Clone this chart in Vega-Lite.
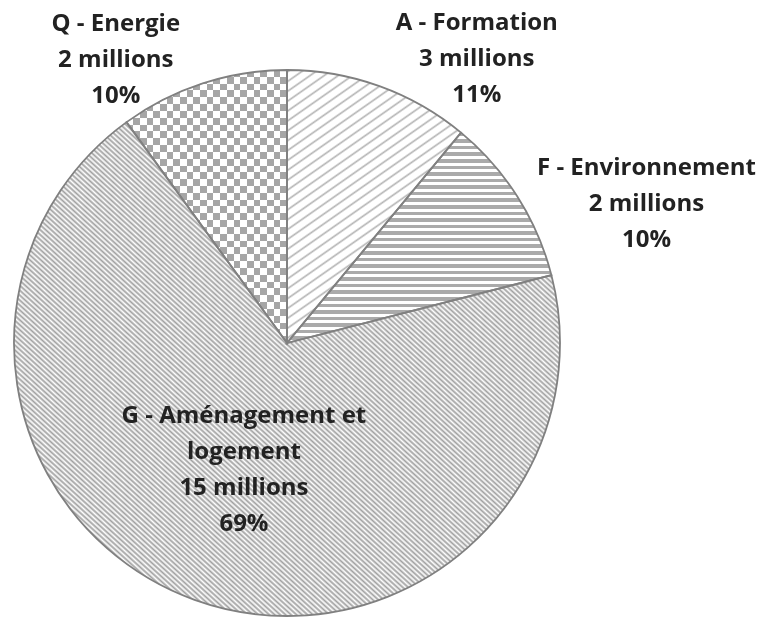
{
  "$schema": "https://vega.github.io/schema/vega-lite/v6.json",
  "autosize": {"type": "none"},
  "width": 574,
  "height": 546,
  "padding": {"left": 0, "top": 70, "right": 191, "bottom": 1},
  "background": "white",
  "view": {"stroke": null},
  "data": {
    "values": [
      {"code": "A", "nom": "Formation", "montant": 3, "part": 11, "etiquette": "A - Formation\n3 millions\n11%"},
      {"code": "F", "nom": "Environnement", "montant": 2, "part": 10, "etiquette": "F - Environnement\n2 millions\n10%"},
      {"code": "G", "nom": "Aménagement et logement", "montant": 15, "part": 69, "etiquette": "G - Aménagement et\nlogement\n15 millions\n69%"},
      {"code": "Q", "nom": "Energie", "montant": 2, "part": 10, "etiquette": "Q - Energie\n2 millions\n10%"}
    ]
  },
  "encoding": {
    "theta": {"field": "part", "type": "quantitative", "stack": true}
  },
  "layer": [
    {
      "mark": {
        "type": "arc", "outerRadius": 273, "strokeWidth": 0,
        "fill": {"gradient": "linear", "x1": 0, "y1": 0, "x2": 0.538, "y2": 1.206, "stops": [
          {"offset":0,"color":"#fff"},{"offset":0.005,"color":"#b4b4b4"},{"offset":0.01,"color":"#fff"},
          {"offset":0.025,"color":"#fff"},{"offset":0.03,"color":"#b4b4b4"},{"offset":0.035,"color":"#fff"},
          {"offset":0.05,"color":"#fff"},{"offset":0.055,"color":"#b4b4b4"},{"offset":0.06,"color":"#fff"},
          {"offset":0.075,"color":"#fff"},{"offset":0.08,"color":"#b4b4b4"},{"offset":0.085,"color":"#fff"},
          {"offset":0.1,"color":"#fff"},{"offset":0.105,"color":"#b4b4b4"},{"offset":0.11,"color":"#fff"},
          {"offset":0.125,"color":"#fff"},{"offset":0.13,"color":"#b4b4b4"},{"offset":0.135,"color":"#fff"},
          {"offset":0.15,"color":"#fff"},{"offset":0.155,"color":"#b4b4b4"},{"offset":0.16,"color":"#fff"},
          {"offset":0.175,"color":"#fff"},{"offset":0.18,"color":"#b4b4b4"},{"offset":0.185,"color":"#fff"},
          {"offset":0.2,"color":"#fff"},{"offset":0.205,"color":"#b4b4b4"},{"offset":0.21,"color":"#fff"},
          {"offset":0.225,"color":"#fff"},{"offset":0.23,"color":"#b4b4b4"},{"offset":0.235,"color":"#fff"},
          {"offset":0.25,"color":"#fff"},{"offset":0.255,"color":"#b4b4b4"},{"offset":0.26,"color":"#fff"},
          {"offset":0.275,"color":"#fff"},{"offset":0.28,"color":"#b4b4b4"},{"offset":0.285,"color":"#fff"},
          {"offset":0.3,"color":"#fff"},{"offset":0.305,"color":"#b4b4b4"},{"offset":0.31,"color":"#fff"},
          {"offset":0.325,"color":"#fff"},{"offset":0.33,"color":"#b4b4b4"},{"offset":0.335,"color":"#fff"},
          {"offset":0.35,"color":"#fff"},{"offset":0.355,"color":"#b4b4b4"},{"offset":0.36,"color":"#fff"},
          {"offset":0.375,"color":"#fff"},{"offset":0.38,"color":"#b4b4b4"},{"offset":0.385,"color":"#fff"},
          {"offset":0.4,"color":"#fff"},{"offset":0.405,"color":"#b4b4b4"},{"offset":0.41,"color":"#fff"},
          {"offset":0.425,"color":"#fff"},{"offset":0.43,"color":"#b4b4b4"},{"offset":0.435,"color":"#fff"},
          {"offset":0.45,"color":"#fff"},{"offset":0.455,"color":"#b4b4b4"},{"offset":0.46,"color":"#fff"},
          {"offset":0.475,"color":"#fff"},{"offset":0.48,"color":"#b4b4b4"},{"offset":0.485,"color":"#fff"},
          {"offset":0.5,"color":"#fff"},{"offset":0.505,"color":"#b4b4b4"},{"offset":0.51,"color":"#fff"},
          {"offset":0.525,"color":"#fff"},{"offset":0.53,"color":"#b4b4b4"},{"offset":0.535,"color":"#fff"},
          {"offset":0.55,"color":"#fff"},{"offset":0.555,"color":"#b4b4b4"},{"offset":0.56,"color":"#fff"},
          {"offset":0.575,"color":"#fff"},{"offset":0.58,"color":"#b4b4b4"},{"offset":0.585,"color":"#fff"},
          {"offset":0.6,"color":"#fff"},{"offset":0.605,"color":"#b4b4b4"},{"offset":0.61,"color":"#fff"},
          {"offset":0.625,"color":"#fff"},{"offset":0.63,"color":"#b4b4b4"},{"offset":0.635,"color":"#fff"},
          {"offset":0.65,"color":"#fff"},{"offset":0.655,"color":"#b4b4b4"},{"offset":0.66,"color":"#fff"},
          {"offset":0.675,"color":"#fff"},{"offset":0.68,"color":"#b4b4b4"},{"offset":0.685,"color":"#fff"},
          {"offset":0.7,"color":"#fff"},{"offset":0.705,"color":"#b4b4b4"},{"offset":0.71,"color":"#fff"},
          {"offset":0.725,"color":"#fff"},{"offset":0.73,"color":"#b4b4b4"},{"offset":0.735,"color":"#fff"},
          {"offset":0.75,"color":"#fff"},{"offset":0.755,"color":"#b4b4b4"},{"offset":0.76,"color":"#fff"},
          {"offset":0.775,"color":"#fff"},{"offset":0.78,"color":"#b4b4b4"},{"offset":0.785,"color":"#fff"},
          {"offset":0.8,"color":"#fff"},{"offset":0.805,"color":"#b4b4b4"},{"offset":0.81,"color":"#fff"},
          {"offset":0.825,"color":"#fff"},{"offset":0.83,"color":"#b4b4b4"},{"offset":0.835,"color":"#fff"},
          {"offset":0.85,"color":"#fff"},{"offset":0.855,"color":"#b4b4b4"},{"offset":0.86,"color":"#fff"},
          {"offset":0.875,"color":"#fff"},{"offset":0.88,"color":"#b4b4b4"},{"offset":0.885,"color":"#fff"},
          {"offset":0.9,"color":"#fff"},{"offset":0.905,"color":"#b4b4b4"},{"offset":0.91,"color":"#fff"},
          {"offset":0.925,"color":"#fff"},{"offset":0.93,"color":"#b4b4b4"},{"offset":0.935,"color":"#fff"},
          {"offset":0.95,"color":"#fff"},{"offset":0.955,"color":"#b4b4b4"},{"offset":0.96,"color":"#fff"},
          {"offset":0.975,"color":"#fff"},{"offset":0.98,"color":"#b4b4b4"},{"offset":0.985,"color":"#fff"},
          {"offset":1,"color":"#fff"}
        ]}
      },
      "encoding": {
        "fillOpacity": {"condition": {"test": "datum.code === 'A'", "value": 1}, "value": 0}
      }
    },
    {
      "mark": {
        "type": "arc", "outerRadius": 273, "strokeWidth": 0,
        "fill": {"gradient": "linear", "x1": 0, "y1": 0, "x2": 0, "y2": 1, "stops": [
          {"offset":0,"color":"#aaa"},{"offset":0.017,"color":"#aaa"},{"offset":0.017,"color":"#fff"},{"offset":0.03125,"color":"#fff"},
          {"offset":0.03125,"color":"#aaa"},{"offset":0.04825,"color":"#aaa"},{"offset":0.04825,"color":"#fff"},{"offset":0.0625,"color":"#fff"},
          {"offset":0.0625,"color":"#aaa"},{"offset":0.0795,"color":"#aaa"},{"offset":0.0795,"color":"#fff"},{"offset":0.09375,"color":"#fff"},
          {"offset":0.09375,"color":"#aaa"},{"offset":0.11075,"color":"#aaa"},{"offset":0.11075,"color":"#fff"},{"offset":0.125,"color":"#fff"},
          {"offset":0.125,"color":"#aaa"},{"offset":0.142,"color":"#aaa"},{"offset":0.142,"color":"#fff"},{"offset":0.15625,"color":"#fff"},
          {"offset":0.15625,"color":"#aaa"},{"offset":0.17325,"color":"#aaa"},{"offset":0.17325,"color":"#fff"},{"offset":0.1875,"color":"#fff"},
          {"offset":0.1875,"color":"#aaa"},{"offset":0.2045,"color":"#aaa"},{"offset":0.2045,"color":"#fff"},{"offset":0.21875,"color":"#fff"},
          {"offset":0.21875,"color":"#aaa"},{"offset":0.23575,"color":"#aaa"},{"offset":0.23575,"color":"#fff"},{"offset":0.25,"color":"#fff"},
          {"offset":0.25,"color":"#aaa"},{"offset":0.267,"color":"#aaa"},{"offset":0.267,"color":"#fff"},{"offset":0.28125,"color":"#fff"},
          {"offset":0.28125,"color":"#aaa"},{"offset":0.29825,"color":"#aaa"},{"offset":0.29825,"color":"#fff"},{"offset":0.3125,"color":"#fff"},
          {"offset":0.3125,"color":"#aaa"},{"offset":0.3295,"color":"#aaa"},{"offset":0.3295,"color":"#fff"},{"offset":0.34375,"color":"#fff"},
          {"offset":0.34375,"color":"#aaa"},{"offset":0.36075,"color":"#aaa"},{"offset":0.36075,"color":"#fff"},{"offset":0.375,"color":"#fff"},
          {"offset":0.375,"color":"#aaa"},{"offset":0.392,"color":"#aaa"},{"offset":0.392,"color":"#fff"},{"offset":0.40625,"color":"#fff"},
          {"offset":0.40625,"color":"#aaa"},{"offset":0.42325,"color":"#aaa"},{"offset":0.42325,"color":"#fff"},{"offset":0.4375,"color":"#fff"},
          {"offset":0.4375,"color":"#aaa"},{"offset":0.4545,"color":"#aaa"},{"offset":0.4545,"color":"#fff"},{"offset":0.46875,"color":"#fff"},
          {"offset":0.46875,"color":"#aaa"},{"offset":0.48575,"color":"#aaa"},{"offset":0.48575,"color":"#fff"},{"offset":0.5,"color":"#fff"},
          {"offset":0.5,"color":"#aaa"},{"offset":0.517,"color":"#aaa"},{"offset":0.517,"color":"#fff"},{"offset":0.53125,"color":"#fff"},
          {"offset":0.53125,"color":"#aaa"},{"offset":0.54825,"color":"#aaa"},{"offset":0.54825,"color":"#fff"},{"offset":0.5625,"color":"#fff"},
          {"offset":0.5625,"color":"#aaa"},{"offset":0.5795,"color":"#aaa"},{"offset":0.5795,"color":"#fff"},{"offset":0.59375,"color":"#fff"},
          {"offset":0.59375,"color":"#aaa"},{"offset":0.61075,"color":"#aaa"},{"offset":0.61075,"color":"#fff"},{"offset":0.625,"color":"#fff"},
          {"offset":0.625,"color":"#aaa"},{"offset":0.642,"color":"#aaa"},{"offset":0.642,"color":"#fff"},{"offset":0.65625,"color":"#fff"},
          {"offset":0.65625,"color":"#aaa"},{"offset":0.67325,"color":"#aaa"},{"offset":0.67325,"color":"#fff"},{"offset":0.6875,"color":"#fff"},
          {"offset":0.6875,"color":"#aaa"},{"offset":0.7045,"color":"#aaa"},{"offset":0.7045,"color":"#fff"},{"offset":0.71875,"color":"#fff"},
          {"offset":0.71875,"color":"#aaa"},{"offset":0.73575,"color":"#aaa"},{"offset":0.73575,"color":"#fff"},{"offset":0.75,"color":"#fff"},
          {"offset":0.75,"color":"#aaa"},{"offset":0.767,"color":"#aaa"},{"offset":0.767,"color":"#fff"},{"offset":0.78125,"color":"#fff"},
          {"offset":0.78125,"color":"#aaa"},{"offset":0.79825,"color":"#aaa"},{"offset":0.79825,"color":"#fff"},{"offset":0.8125,"color":"#fff"},
          {"offset":0.8125,"color":"#aaa"},{"offset":0.8295,"color":"#aaa"},{"offset":0.8295,"color":"#fff"},{"offset":0.84375,"color":"#fff"},
          {"offset":0.84375,"color":"#aaa"},{"offset":0.86075,"color":"#aaa"},{"offset":0.86075,"color":"#fff"},{"offset":0.875,"color":"#fff"},
          {"offset":0.875,"color":"#aaa"},{"offset":0.892,"color":"#aaa"},{"offset":0.892,"color":"#fff"},{"offset":0.90625,"color":"#fff"},
          {"offset":0.90625,"color":"#aaa"},{"offset":0.92325,"color":"#aaa"},{"offset":0.92325,"color":"#fff"},{"offset":0.9375,"color":"#fff"},
          {"offset":0.9375,"color":"#aaa"},{"offset":0.9545,"color":"#aaa"},{"offset":0.9545,"color":"#fff"},{"offset":0.96875,"color":"#fff"},
          {"offset":0.96875,"color":"#aaa"},{"offset":0.98575,"color":"#aaa"},{"offset":0.98575,"color":"#fff"},{"offset":1,"color":"#fff"}
        ]}
      },
      "encoding": {
        "fillOpacity": {"condition": {"test": "datum.code === 'F'", "value": 1}, "value": 0}
      }
    },
    {
      "mark": {
        "type": "arc", "outerRadius": 273, "strokeWidth": 0,
        "fill": {"gradient": "linear", "x1": 0, "y1": 1, "x2": 1, "y2": 0, "stops": [
          {"offset":0,"color":"#a0a0a0"},{"offset":0.0025,"color":"#fff"},{"offset":0.005,"color":"#a0a0a0"},{"offset":0.0075,"color":"#fff"},
          {"offset":0.01,"color":"#a0a0a0"},{"offset":0.0125,"color":"#fff"},{"offset":0.015,"color":"#a0a0a0"},{"offset":0.0175,"color":"#fff"},
          {"offset":0.02,"color":"#a0a0a0"},{"offset":0.0225,"color":"#fff"},{"offset":0.025,"color":"#a0a0a0"},{"offset":0.0275,"color":"#fff"},
          {"offset":0.03,"color":"#a0a0a0"},{"offset":0.0325,"color":"#fff"},{"offset":0.035,"color":"#a0a0a0"},{"offset":0.0375,"color":"#fff"},
          {"offset":0.04,"color":"#a0a0a0"},{"offset":0.0425,"color":"#fff"},{"offset":0.045,"color":"#a0a0a0"},{"offset":0.0475,"color":"#fff"},
          {"offset":0.05,"color":"#a0a0a0"},{"offset":0.0525,"color":"#fff"},{"offset":0.055,"color":"#a0a0a0"},{"offset":0.0575,"color":"#fff"},
          {"offset":0.06,"color":"#a0a0a0"},{"offset":0.0625,"color":"#fff"},{"offset":0.065,"color":"#a0a0a0"},{"offset":0.0675,"color":"#fff"},
          {"offset":0.07,"color":"#a0a0a0"},{"offset":0.0725,"color":"#fff"},{"offset":0.075,"color":"#a0a0a0"},{"offset":0.0775,"color":"#fff"},
          {"offset":0.08,"color":"#a0a0a0"},{"offset":0.0825,"color":"#fff"},{"offset":0.085,"color":"#a0a0a0"},{"offset":0.0875,"color":"#fff"},
          {"offset":0.09,"color":"#a0a0a0"},{"offset":0.0925,"color":"#fff"},{"offset":0.095,"color":"#a0a0a0"},{"offset":0.0975,"color":"#fff"},
          {"offset":0.1,"color":"#a0a0a0"},{"offset":0.1025,"color":"#fff"},{"offset":0.105,"color":"#a0a0a0"},{"offset":0.1075,"color":"#fff"},
          {"offset":0.11,"color":"#a0a0a0"},{"offset":0.1125,"color":"#fff"},{"offset":0.115,"color":"#a0a0a0"},{"offset":0.1175,"color":"#fff"},
          {"offset":0.12,"color":"#a0a0a0"},{"offset":0.1225,"color":"#fff"},{"offset":0.125,"color":"#a0a0a0"},{"offset":0.1275,"color":"#fff"},
          {"offset":0.13,"color":"#a0a0a0"},{"offset":0.1325,"color":"#fff"},{"offset":0.135,"color":"#a0a0a0"},{"offset":0.1375,"color":"#fff"},
          {"offset":0.14,"color":"#a0a0a0"},{"offset":0.1425,"color":"#fff"},{"offset":0.145,"color":"#a0a0a0"},{"offset":0.1475,"color":"#fff"},
          {"offset":0.15,"color":"#a0a0a0"},{"offset":0.1525,"color":"#fff"},{"offset":0.155,"color":"#a0a0a0"},{"offset":0.1575,"color":"#fff"},
          {"offset":0.16,"color":"#a0a0a0"},{"offset":0.1625,"color":"#fff"},{"offset":0.165,"color":"#a0a0a0"},{"offset":0.1675,"color":"#fff"},
          {"offset":0.17,"color":"#a0a0a0"},{"offset":0.1725,"color":"#fff"},{"offset":0.175,"color":"#a0a0a0"},{"offset":0.1775,"color":"#fff"},
          {"offset":0.18,"color":"#a0a0a0"},{"offset":0.1825,"color":"#fff"},{"offset":0.185,"color":"#a0a0a0"},{"offset":0.1875,"color":"#fff"},
          {"offset":0.19,"color":"#a0a0a0"},{"offset":0.1925,"color":"#fff"},{"offset":0.195,"color":"#a0a0a0"},{"offset":0.1975,"color":"#fff"},
          {"offset":0.2,"color":"#a0a0a0"},{"offset":0.2025,"color":"#fff"},{"offset":0.205,"color":"#a0a0a0"},{"offset":0.2075,"color":"#fff"},
          {"offset":0.21,"color":"#a0a0a0"},{"offset":0.2125,"color":"#fff"},{"offset":0.215,"color":"#a0a0a0"},{"offset":0.2175,"color":"#fff"},
          {"offset":0.22,"color":"#a0a0a0"},{"offset":0.2225,"color":"#fff"},{"offset":0.225,"color":"#a0a0a0"},{"offset":0.2275,"color":"#fff"},
          {"offset":0.23,"color":"#a0a0a0"},{"offset":0.2325,"color":"#fff"},{"offset":0.235,"color":"#a0a0a0"},{"offset":0.2375,"color":"#fff"},
          {"offset":0.24,"color":"#a0a0a0"},{"offset":0.2425,"color":"#fff"},{"offset":0.245,"color":"#a0a0a0"},{"offset":0.2475,"color":"#fff"},
          {"offset":0.25,"color":"#a0a0a0"},{"offset":0.2525,"color":"#fff"},{"offset":0.255,"color":"#a0a0a0"},{"offset":0.2575,"color":"#fff"},
          {"offset":0.26,"color":"#a0a0a0"},{"offset":0.2625,"color":"#fff"},{"offset":0.265,"color":"#a0a0a0"},{"offset":0.2675,"color":"#fff"},
          {"offset":0.27,"color":"#a0a0a0"},{"offset":0.2725,"color":"#fff"},{"offset":0.275,"color":"#a0a0a0"},{"offset":0.2775,"color":"#fff"},
          {"offset":0.28,"color":"#a0a0a0"},{"offset":0.2825,"color":"#fff"},{"offset":0.285,"color":"#a0a0a0"},{"offset":0.2875,"color":"#fff"},
          {"offset":0.29,"color":"#a0a0a0"},{"offset":0.2925,"color":"#fff"},{"offset":0.295,"color":"#a0a0a0"},{"offset":0.2975,"color":"#fff"},
          {"offset":0.3,"color":"#a0a0a0"},{"offset":0.3025,"color":"#fff"},{"offset":0.305,"color":"#a0a0a0"},{"offset":0.3075,"color":"#fff"},
          {"offset":0.31,"color":"#a0a0a0"},{"offset":0.3125,"color":"#fff"},{"offset":0.315,"color":"#a0a0a0"},{"offset":0.3175,"color":"#fff"},
          {"offset":0.32,"color":"#a0a0a0"},{"offset":0.3225,"color":"#fff"},{"offset":0.325,"color":"#a0a0a0"},{"offset":0.3275,"color":"#fff"},
          {"offset":0.33,"color":"#a0a0a0"},{"offset":0.3325,"color":"#fff"},{"offset":0.335,"color":"#a0a0a0"},{"offset":0.3375,"color":"#fff"},
          {"offset":0.34,"color":"#a0a0a0"},{"offset":0.3425,"color":"#fff"},{"offset":0.345,"color":"#a0a0a0"},{"offset":0.3475,"color":"#fff"},
          {"offset":0.35,"color":"#a0a0a0"},{"offset":0.3525,"color":"#fff"},{"offset":0.355,"color":"#a0a0a0"},{"offset":0.3575,"color":"#fff"},
          {"offset":0.36,"color":"#a0a0a0"},{"offset":0.3625,"color":"#fff"},{"offset":0.365,"color":"#a0a0a0"},{"offset":0.3675,"color":"#fff"},
          {"offset":0.37,"color":"#a0a0a0"},{"offset":0.3725,"color":"#fff"},{"offset":0.375,"color":"#a0a0a0"},{"offset":0.3775,"color":"#fff"},
          {"offset":0.38,"color":"#a0a0a0"},{"offset":0.3825,"color":"#fff"},{"offset":0.385,"color":"#a0a0a0"},{"offset":0.3875,"color":"#fff"},
          {"offset":0.39,"color":"#a0a0a0"},{"offset":0.3925,"color":"#fff"},{"offset":0.395,"color":"#a0a0a0"},{"offset":0.3975,"color":"#fff"},
          {"offset":0.4,"color":"#a0a0a0"},{"offset":0.4025,"color":"#fff"},{"offset":0.405,"color":"#a0a0a0"},{"offset":0.4075,"color":"#fff"},
          {"offset":0.41,"color":"#a0a0a0"},{"offset":0.4125,"color":"#fff"},{"offset":0.415,"color":"#a0a0a0"},{"offset":0.4175,"color":"#fff"},
          {"offset":0.42,"color":"#a0a0a0"},{"offset":0.4225,"color":"#fff"},{"offset":0.425,"color":"#a0a0a0"},{"offset":0.4275,"color":"#fff"},
          {"offset":0.43,"color":"#a0a0a0"},{"offset":0.4325,"color":"#fff"},{"offset":0.435,"color":"#a0a0a0"},{"offset":0.4375,"color":"#fff"},
          {"offset":0.44,"color":"#a0a0a0"},{"offset":0.4425,"color":"#fff"},{"offset":0.445,"color":"#a0a0a0"},{"offset":0.4475,"color":"#fff"},
          {"offset":0.45,"color":"#a0a0a0"},{"offset":0.4525,"color":"#fff"},{"offset":0.455,"color":"#a0a0a0"},{"offset":0.4575,"color":"#fff"},
          {"offset":0.46,"color":"#a0a0a0"},{"offset":0.4625,"color":"#fff"},{"offset":0.465,"color":"#a0a0a0"},{"offset":0.4675,"color":"#fff"},
          {"offset":0.47,"color":"#a0a0a0"},{"offset":0.4725,"color":"#fff"},{"offset":0.475,"color":"#a0a0a0"},{"offset":0.4775,"color":"#fff"},
          {"offset":0.48,"color":"#a0a0a0"},{"offset":0.4825,"color":"#fff"},{"offset":0.485,"color":"#a0a0a0"},{"offset":0.4875,"color":"#fff"},
          {"offset":0.49,"color":"#a0a0a0"},{"offset":0.4925,"color":"#fff"},{"offset":0.495,"color":"#a0a0a0"},{"offset":0.4975,"color":"#fff"},
          {"offset":0.5,"color":"#a0a0a0"},{"offset":0.5025,"color":"#fff"},{"offset":0.505,"color":"#a0a0a0"},{"offset":0.5075,"color":"#fff"},
          {"offset":0.51,"color":"#a0a0a0"},{"offset":0.5125,"color":"#fff"},{"offset":0.515,"color":"#a0a0a0"},{"offset":0.5175,"color":"#fff"},
          {"offset":0.52,"color":"#a0a0a0"},{"offset":0.5225,"color":"#fff"},{"offset":0.525,"color":"#a0a0a0"},{"offset":0.5275,"color":"#fff"},
          {"offset":0.53,"color":"#a0a0a0"},{"offset":0.5325,"color":"#fff"},{"offset":0.535,"color":"#a0a0a0"},{"offset":0.5375,"color":"#fff"},
          {"offset":0.54,"color":"#a0a0a0"},{"offset":0.5425,"color":"#fff"},{"offset":0.545,"color":"#a0a0a0"},{"offset":0.5475,"color":"#fff"},
          {"offset":0.55,"color":"#a0a0a0"},{"offset":0.5525,"color":"#fff"},{"offset":0.555,"color":"#a0a0a0"},{"offset":0.5575,"color":"#fff"},
          {"offset":0.56,"color":"#a0a0a0"},{"offset":0.5625,"color":"#fff"},{"offset":0.565,"color":"#a0a0a0"},{"offset":0.5675,"color":"#fff"},
          {"offset":0.57,"color":"#a0a0a0"},{"offset":0.5725,"color":"#fff"},{"offset":0.575,"color":"#a0a0a0"},{"offset":0.5775,"color":"#fff"},
          {"offset":0.58,"color":"#a0a0a0"},{"offset":0.5825,"color":"#fff"},{"offset":0.585,"color":"#a0a0a0"},{"offset":0.5875,"color":"#fff"},
          {"offset":0.59,"color":"#a0a0a0"},{"offset":0.5925,"color":"#fff"},{"offset":0.595,"color":"#a0a0a0"},{"offset":0.5975,"color":"#fff"},
          {"offset":0.6,"color":"#a0a0a0"},{"offset":0.6025,"color":"#fff"},{"offset":0.605,"color":"#a0a0a0"},{"offset":0.6075,"color":"#fff"},
          {"offset":0.61,"color":"#a0a0a0"},{"offset":0.6125,"color":"#fff"},{"offset":0.615,"color":"#a0a0a0"},{"offset":0.6175,"color":"#fff"},
          {"offset":0.62,"color":"#a0a0a0"},{"offset":0.6225,"color":"#fff"},{"offset":0.625,"color":"#a0a0a0"},{"offset":0.6275,"color":"#fff"},
          {"offset":0.63,"color":"#a0a0a0"},{"offset":0.6325,"color":"#fff"},{"offset":0.635,"color":"#a0a0a0"},{"offset":0.6375,"color":"#fff"},
          {"offset":0.64,"color":"#a0a0a0"},{"offset":0.6425,"color":"#fff"},{"offset":0.645,"color":"#a0a0a0"},{"offset":0.6475,"color":"#fff"},
          {"offset":0.65,"color":"#a0a0a0"},{"offset":0.6525,"color":"#fff"},{"offset":0.655,"color":"#a0a0a0"},{"offset":0.6575,"color":"#fff"},
          {"offset":0.66,"color":"#a0a0a0"},{"offset":0.6625,"color":"#fff"},{"offset":0.665,"color":"#a0a0a0"},{"offset":0.6675,"color":"#fff"},
          {"offset":0.67,"color":"#a0a0a0"},{"offset":0.6725,"color":"#fff"},{"offset":0.675,"color":"#a0a0a0"},{"offset":0.6775,"color":"#fff"},
          {"offset":0.68,"color":"#a0a0a0"},{"offset":0.6825,"color":"#fff"},{"offset":0.685,"color":"#a0a0a0"},{"offset":0.6875,"color":"#fff"},
          {"offset":0.69,"color":"#a0a0a0"},{"offset":0.6925,"color":"#fff"},{"offset":0.695,"color":"#a0a0a0"},{"offset":0.6975,"color":"#fff"},
          {"offset":0.7,"color":"#a0a0a0"},{"offset":0.7025,"color":"#fff"},{"offset":0.705,"color":"#a0a0a0"},{"offset":0.7075,"color":"#fff"},
          {"offset":0.71,"color":"#a0a0a0"},{"offset":0.7125,"color":"#fff"},{"offset":0.715,"color":"#a0a0a0"},{"offset":0.7175,"color":"#fff"},
          {"offset":0.72,"color":"#a0a0a0"},{"offset":0.7225,"color":"#fff"},{"offset":0.725,"color":"#a0a0a0"},{"offset":0.7275,"color":"#fff"},
          {"offset":0.73,"color":"#a0a0a0"},{"offset":0.7325,"color":"#fff"},{"offset":0.735,"color":"#a0a0a0"},{"offset":0.7375,"color":"#fff"},
          {"offset":0.74,"color":"#a0a0a0"},{"offset":0.7425,"color":"#fff"},{"offset":0.745,"color":"#a0a0a0"},{"offset":0.7475,"color":"#fff"},
          {"offset":0.75,"color":"#a0a0a0"},{"offset":0.7525,"color":"#fff"},{"offset":0.755,"color":"#a0a0a0"},{"offset":0.7575,"color":"#fff"},
          {"offset":0.76,"color":"#a0a0a0"},{"offset":0.7625,"color":"#fff"},{"offset":0.765,"color":"#a0a0a0"},{"offset":0.7675,"color":"#fff"},
          {"offset":0.77,"color":"#a0a0a0"},{"offset":0.7725,"color":"#fff"},{"offset":0.775,"color":"#a0a0a0"},{"offset":0.7775,"color":"#fff"},
          {"offset":0.78,"color":"#a0a0a0"},{"offset":0.7825,"color":"#fff"},{"offset":0.785,"color":"#a0a0a0"},{"offset":0.7875,"color":"#fff"},
          {"offset":0.79,"color":"#a0a0a0"},{"offset":0.7925,"color":"#fff"},{"offset":0.795,"color":"#a0a0a0"},{"offset":0.7975,"color":"#fff"},
          {"offset":0.8,"color":"#a0a0a0"},{"offset":0.8025,"color":"#fff"},{"offset":0.805,"color":"#a0a0a0"},{"offset":0.8075,"color":"#fff"},
          {"offset":0.81,"color":"#a0a0a0"},{"offset":0.8125,"color":"#fff"},{"offset":0.815,"color":"#a0a0a0"},{"offset":0.8175,"color":"#fff"},
          {"offset":0.82,"color":"#a0a0a0"},{"offset":0.8225,"color":"#fff"},{"offset":0.825,"color":"#a0a0a0"},{"offset":0.8275,"color":"#fff"},
          {"offset":0.83,"color":"#a0a0a0"},{"offset":0.8325,"color":"#fff"},{"offset":0.835,"color":"#a0a0a0"},{"offset":0.8375,"color":"#fff"},
          {"offset":0.84,"color":"#a0a0a0"},{"offset":0.8425,"color":"#fff"},{"offset":0.845,"color":"#a0a0a0"},{"offset":0.8475,"color":"#fff"},
          {"offset":0.85,"color":"#a0a0a0"},{"offset":0.8525,"color":"#fff"},{"offset":0.855,"color":"#a0a0a0"},{"offset":0.8575,"color":"#fff"},
          {"offset":0.86,"color":"#a0a0a0"},{"offset":0.8625,"color":"#fff"},{"offset":0.865,"color":"#a0a0a0"},{"offset":0.8675,"color":"#fff"},
          {"offset":0.87,"color":"#a0a0a0"},{"offset":0.8725,"color":"#fff"},{"offset":0.875,"color":"#a0a0a0"},{"offset":0.8775,"color":"#fff"},
          {"offset":0.88,"color":"#a0a0a0"},{"offset":0.8825,"color":"#fff"},{"offset":0.885,"color":"#a0a0a0"},{"offset":0.8875,"color":"#fff"},
          {"offset":0.89,"color":"#a0a0a0"},{"offset":0.8925,"color":"#fff"},{"offset":0.895,"color":"#a0a0a0"},{"offset":0.8975,"color":"#fff"},
          {"offset":0.9,"color":"#a0a0a0"},{"offset":0.9025,"color":"#fff"},{"offset":0.905,"color":"#a0a0a0"},{"offset":0.9075,"color":"#fff"},
          {"offset":0.91,"color":"#a0a0a0"},{"offset":0.9125,"color":"#fff"},{"offset":0.915,"color":"#a0a0a0"},{"offset":0.9175,"color":"#fff"},
          {"offset":0.92,"color":"#a0a0a0"},{"offset":0.9225,"color":"#fff"},{"offset":0.925,"color":"#a0a0a0"},{"offset":0.9275,"color":"#fff"},
          {"offset":0.93,"color":"#a0a0a0"},{"offset":0.9325,"color":"#fff"},{"offset":0.935,"color":"#a0a0a0"},{"offset":0.9375,"color":"#fff"},
          {"offset":0.94,"color":"#a0a0a0"},{"offset":0.9425,"color":"#fff"},{"offset":0.945,"color":"#a0a0a0"},{"offset":0.9475,"color":"#fff"},
          {"offset":0.95,"color":"#a0a0a0"},{"offset":0.9525,"color":"#fff"},{"offset":0.955,"color":"#a0a0a0"},{"offset":0.9575,"color":"#fff"},
          {"offset":0.96,"color":"#a0a0a0"},{"offset":0.9625,"color":"#fff"},{"offset":0.965,"color":"#a0a0a0"},{"offset":0.9675,"color":"#fff"},
          {"offset":0.97,"color":"#a0a0a0"},{"offset":0.9725,"color":"#fff"},{"offset":0.975,"color":"#a0a0a0"},{"offset":0.9775,"color":"#fff"},
          {"offset":0.98,"color":"#a0a0a0"},{"offset":0.9825,"color":"#fff"},{"offset":0.985,"color":"#a0a0a0"},{"offset":0.9875,"color":"#fff"},
          {"offset":0.99,"color":"#a0a0a0"},{"offset":0.9925,"color":"#fff"},{"offset":0.995,"color":"#a0a0a0"},{"offset":0.9975,"color":"#fff"},
          {"offset":1,"color":"#a0a0a0"}
        ]}
      },
      "encoding": {
        "fillOpacity": {"condition": {"test": "datum.code === 'G'", "value": 1}, "value": 0}
      }
    },
    {
      "mark": {
        "type": "arc", "outerRadius": 273, "strokeWidth": 0,
        "fill": {"gradient": "linear", "x1": 0, "y1": 0, "x2": 0, "y2": 1, "stops": [
          {"offset":0,"color":"#000"},{"offset":0.025,"color":"#000"},{"offset":0.025,"color":"#fff"},{"offset":0.05,"color":"#fff"},
          {"offset":0.05,"color":"#000"},{"offset":0.075,"color":"#000"},{"offset":0.075,"color":"#fff"},{"offset":0.1,"color":"#fff"},
          {"offset":0.1,"color":"#000"},{"offset":0.125,"color":"#000"},{"offset":0.125,"color":"#fff"},{"offset":0.15,"color":"#fff"},
          {"offset":0.15,"color":"#000"},{"offset":0.175,"color":"#000"},{"offset":0.175,"color":"#fff"},{"offset":0.2,"color":"#fff"},
          {"offset":0.2,"color":"#000"},{"offset":0.225,"color":"#000"},{"offset":0.225,"color":"#fff"},{"offset":0.25,"color":"#fff"},
          {"offset":0.25,"color":"#000"},{"offset":0.275,"color":"#000"},{"offset":0.275,"color":"#fff"},{"offset":0.3,"color":"#fff"},
          {"offset":0.3,"color":"#000"},{"offset":0.325,"color":"#000"},{"offset":0.325,"color":"#fff"},{"offset":0.35,"color":"#fff"},
          {"offset":0.35,"color":"#000"},{"offset":0.375,"color":"#000"},{"offset":0.375,"color":"#fff"},{"offset":0.4,"color":"#fff"},
          {"offset":0.4,"color":"#000"},{"offset":0.425,"color":"#000"},{"offset":0.425,"color":"#fff"},{"offset":0.45,"color":"#fff"},
          {"offset":0.45,"color":"#000"},{"offset":0.475,"color":"#000"},{"offset":0.475,"color":"#fff"},{"offset":0.5,"color":"#fff"},
          {"offset":0.5,"color":"#000"},{"offset":0.525,"color":"#000"},{"offset":0.525,"color":"#fff"},{"offset":0.55,"color":"#fff"},
          {"offset":0.55,"color":"#000"},{"offset":0.575,"color":"#000"},{"offset":0.575,"color":"#fff"},{"offset":0.6,"color":"#fff"},
          {"offset":0.6,"color":"#000"},{"offset":0.625,"color":"#000"},{"offset":0.625,"color":"#fff"},{"offset":0.65,"color":"#fff"},
          {"offset":0.65,"color":"#000"},{"offset":0.675,"color":"#000"},{"offset":0.675,"color":"#fff"},{"offset":0.7,"color":"#fff"},
          {"offset":0.7,"color":"#000"},{"offset":0.725,"color":"#000"},{"offset":0.725,"color":"#fff"},{"offset":0.75,"color":"#fff"},
          {"offset":0.75,"color":"#000"},{"offset":0.775,"color":"#000"},{"offset":0.775,"color":"#fff"},{"offset":0.8,"color":"#fff"},
          {"offset":0.8,"color":"#000"},{"offset":0.825,"color":"#000"},{"offset":0.825,"color":"#fff"},{"offset":0.85,"color":"#fff"},
          {"offset":0.85,"color":"#000"},{"offset":0.875,"color":"#000"},{"offset":0.875,"color":"#fff"},{"offset":0.9,"color":"#fff"},
          {"offset":0.9,"color":"#000"},{"offset":0.925,"color":"#000"},{"offset":0.925,"color":"#fff"},{"offset":0.95,"color":"#fff"},
          {"offset":0.95,"color":"#000"},{"offset":0.975,"color":"#000"},{"offset":0.975,"color":"#fff"},{"offset":1,"color":"#fff"}
        ]}
      },
      "encoding": {
        "fillOpacity": {"condition": {"test": "datum.code === 'Q'", "value": 1}, "value": 0}
      }
    },
    {
      "mark": {
        "type": "arc", "outerRadius": 273, "strokeWidth": 0, "blend": "difference",
        "fill": {"gradient": "linear", "x1": 0, "y1": 0, "x2": 1, "y2": 0, "stops": [
          {"offset":0,"color":"#000"},{"offset":0.041667,"color":"#000"},{"offset":0.041667,"color":"#fff"},{"offset":0.083333,"color":"#fff"},
          {"offset":0.083333,"color":"#000"},{"offset":0.125,"color":"#000"},{"offset":0.125,"color":"#fff"},{"offset":0.166667,"color":"#fff"},
          {"offset":0.166667,"color":"#000"},{"offset":0.208333,"color":"#000"},{"offset":0.208333,"color":"#fff"},{"offset":0.25,"color":"#fff"},
          {"offset":0.25,"color":"#000"},{"offset":0.291667,"color":"#000"},{"offset":0.291667,"color":"#fff"},{"offset":0.333333,"color":"#fff"},
          {"offset":0.333333,"color":"#000"},{"offset":0.375,"color":"#000"},{"offset":0.375,"color":"#fff"},{"offset":0.416667,"color":"#fff"},
          {"offset":0.416667,"color":"#000"},{"offset":0.458333,"color":"#000"},{"offset":0.458333,"color":"#fff"},{"offset":0.5,"color":"#fff"},
          {"offset":0.5,"color":"#000"},{"offset":0.541667,"color":"#000"},{"offset":0.541667,"color":"#fff"},{"offset":0.583333,"color":"#fff"},
          {"offset":0.583333,"color":"#000"},{"offset":0.625,"color":"#000"},{"offset":0.625,"color":"#fff"},{"offset":0.666667,"color":"#fff"},
          {"offset":0.666667,"color":"#000"},{"offset":0.708333,"color":"#000"},{"offset":0.708333,"color":"#fff"},{"offset":0.75,"color":"#fff"},
          {"offset":0.75,"color":"#000"},{"offset":0.791667,"color":"#000"},{"offset":0.791667,"color":"#fff"},{"offset":0.833333,"color":"#fff"},
          {"offset":0.833333,"color":"#000"},{"offset":0.875,"color":"#000"},{"offset":0.875,"color":"#fff"},{"offset":0.916667,"color":"#fff"},
          {"offset":0.916667,"color":"#000"},{"offset":0.958333,"color":"#000"},{"offset":0.958333,"color":"#fff"},{"offset":1,"color":"#fff"}
        ]}
      },
      "encoding": {
        "fillOpacity": {"condition": {"test": "datum.code === 'Q'", "value": 1}, "value": 0}
      }
    },
    {
      "mark": {"type": "arc", "outerRadius": 273, "strokeWidth": 0, "blend": "screen", "fill": "#a6a6a6"},
      "encoding": {
        "fillOpacity": {"condition": {"test": "datum.code === 'Q'", "value": 1}, "value": 0}
      }
    },
    {
      "mark": {"type": "arc", "outerRadius": 273, "fill": null, "fillOpacity": 0, "stroke": "#808080", "strokeWidth": 1.8}
    },
    {
      "mark": {"type": "text", "radius": 330, "dx": 78, "dy": -10, "font": "Open Sans", "fontSize": 24, "fontWeight": "bold", "fill": "#222222", "lineBreak": "\n", "lineHeight": 36, "align": "center", "baseline": "middle"},
      "encoding": {
        "text": {"condition": {"test": "datum.code === 'A'", "field": "etiquette", "type": "nominal"}, "value": ""}
      }
    },
    {
      "mark": {"type": "text", "radius": 376, "dx": 42, "dy": 26, "font": "Open Sans", "fontSize": 24, "fontWeight": "bold", "fill": "#222222", "lineBreak": "\n", "lineHeight": 36, "align": "center", "baseline": "middle"},
      "encoding": {
        "text": {"condition": {"test": "datum.code === 'F'", "field": "etiquette", "type": "nominal"}, "value": ""}
      }
    },
    {
      "mark": {"type": "text", "radius": 133, "dx": 2, "dy": -52, "font": "Open Sans", "fontSize": 24, "fontWeight": "bold", "fill": "#222222", "lineBreak": "\n", "lineHeight": 36, "align": "center", "baseline": "middle"},
      "encoding": {
        "text": {"condition": {"test": "datum.code === 'G'", "field": "etiquette", "type": "nominal"}, "value": ""}
      }
    },
    {
      "mark": {"type": "text", "radius": 321, "dx": -72, "dy": -14, "font": "Open Sans", "fontSize": 24, "fontWeight": "bold", "fill": "#222222", "lineBreak": "\n", "lineHeight": 36, "align": "center", "baseline": "middle"},
      "encoding": {
        "text": {"condition": {"test": "datum.code === 'Q'", "field": "etiquette", "type": "nominal"}, "value": ""}
      }
    }
  ]
}
